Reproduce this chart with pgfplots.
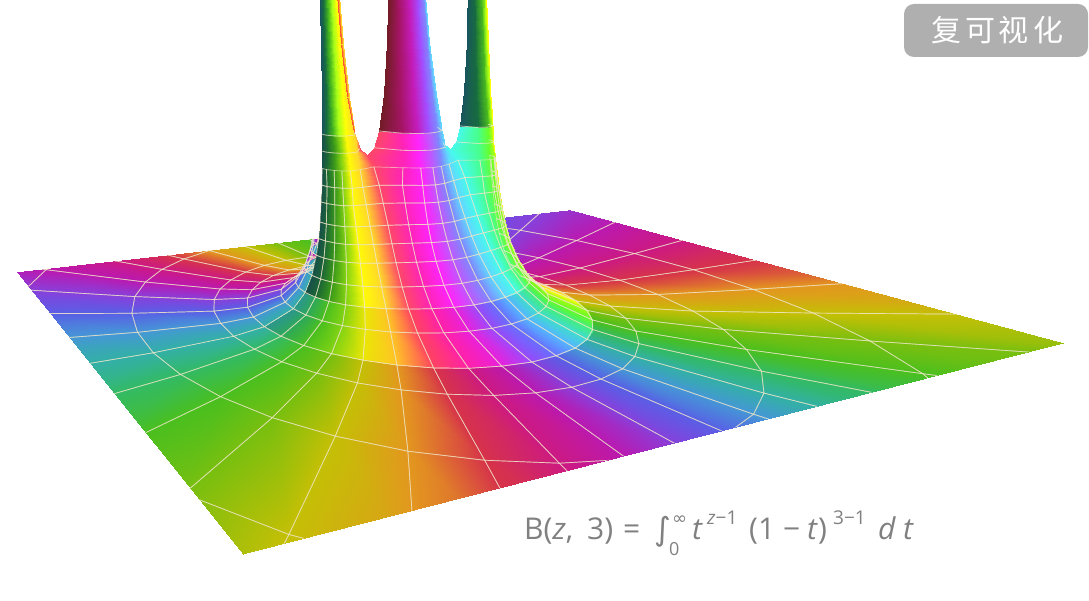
\documentclass[border=0pt]{standalone}
\usepackage{pgfplots}
\usepackage{pgfplotstable}
\usepackage{fontspec}
\pgfplotsset{compat=1.18}
\setmainfont{Open Sans}
\newfontfamily\dejavu{DejaVu Sans}
\newfontfamily\cjk{Noto Sans CJK SC}
\definecolor{fgray}{RGB}{128,128,128}
\definecolor{bgray}{RGB}{175,175,175}
\definecolor{wlinecol}{RGB}{238,230,200}

\pgfplotstableread{
rho alpha wx wy h
7.5 0 7.54 0 0.0047
7.5 10 7.43 1.29 0.0047
7.5 20 7.09 2.55 0.0047
7.5 30 6.53 3.73 0.0047
7.5 40 5.78 4.79 0.0047
7.5 50 4.85 5.71 0.0047
7.5 60 3.77 6.46 0.0047
7.5 70 2.58 7.01 0.0047
7.5 80 1.31 7.34 0.0047
7.5 90 0 7.46 0.0047
4.64 0 4.71 0 0.02
4.64 10 4.64 0.79 0.02
4.64 20 4.43 1.56 0.02
4.64 30 4.08 2.28 0.02
4.64 40 3.61 2.94 0.02
4.64 50 3.03 3.50 0.02
4.64 60 2.36 3.96 0.02
4.64 70 1.61 4.29 0.02
4.64 80 0.82 4.50 0.02
4.64 90 0 4.57 0.02
3.22 0 3.32 0 0.06
3.22 10 3.27 0.54 0.06
3.22 20 3.12 1.07 0.06
3.22 30 2.88 1.56 0.06
3.22 40 2.55 2.00 0.06
3.22 50 2.14 2.39 0.06
3.22 60 1.66 2.70 0.06
3.22 70 1.14 2.93 0.06
3.22 80 0.58 3.07 0.06
3.22 90 0 3.12 0.06
2.23 0 2.38 0 0.18
2.23 10 2.34 0.36 0.18
2.23 20 2.24 0.71 0.18
2.23 30 2.06 1.04 0.18
2.23 40 1.82 1.34 0.18
2.23 50 1.53 1.59 0.18
2.23 60 1.19 1.80 0.18
2.23 70 0.81 1.96 0.18
2.23 80 0.41 2.05 0.18
2.23 90 0 2.08 0.18
1.82 0 2.00 0 0.33
1.82 10 1.97 0.28 0.33
1.82 20 1.88 0.56 0.33
1.82 30 1.73 0.82 0.33
1.82 40 1.53 1.05 0.33
1.82 50 1.29 1.25 0.33
1.82 60 1.00 1.42 0.33
1.82 70 0.69 1.54 0.33
1.82 80 0.35 1.61 0.33
1.82 90 0 1.64 0.33
}\tblFar

\pgfplotstableread{
rho alpha wx wy h
1.82 0 2.00 0 0.33
1.82 10 1.97 0.28 0.33
1.82 20 1.88 0.56 0.33
1.82 30 1.73 0.82 0.33
1.82 40 1.53 1.05 0.33
1.82 50 1.29 1.25 0.33
1.82 60 1.00 1.42 0.33
1.82 70 0.69 1.54 0.33
1.82 80 0.35 1.61 0.33
1.82 90 0 1.64 0.33
1.387 0 1.625 0 0.75
1.387 10 1.60 0.20 0.75
1.387 20 1.53 0.394 0.75
1.387 30 1.41 0.575 0.75
1.387 40 1.25 0.736 0.75
1.387 50 1.05 0.877 0.75
1.387 60 0.81 0.991 0.75
1.387 70 0.554 1.077 0.75
1.387 80 0.28 1.13 0.75
1.387 90 0 1.15 0.75
1.186 0 1.463 0 1.2
1.186 10 1.442 0.160 1.2
1.186 20 1.379 0.314 1.2
1.186 30 1.274 0.456 1.2
1.186 40 1.129 0.581 1.2
1.186 50 0.946 0.688 1.2
1.186 60 0.7315 0.778 1.2
1.186 70 0.496 0.848 1.2
1.186 80 0.250 0.895 1.2
1.186 90 0 0.912 1.2
}\tblBand

\pgfplotstableread{
rho alpha wx wy h
1.186 0 1.463 0 1.2
1.186 10 1.442 0.160 1.2
1.186 20 1.379 0.314 1.2
1.186 30 1.274 0.456 1.2
1.186 40 1.129 0.581 1.2
1.186 50 0.946 0.688 1.2
1.186 60 0.7315 0.778 1.2
1.186 70 0.496 0.848 1.2
1.186 80 0.250 0.895 1.2
1.186 90 0 0.912 1.2
1.056 0 1.365 0 1.7
1.056 10 1.346 0.133 1.7
1.056 20 1.288 0.261 1.7
1.056 30 1.194 0.376 1.7
1.056 40 1.060 0.475 1.7
1.056 50 0.888 0.559 1.7
1.056 60 0.683 0.631 1.7
1.056 70 0.458 0.692 1.7
1.056 80 0.228 0.736 1.7
1.056 90 0 0.7525 1.7
0.954 0 1.2935 0 2.3
0.954 10 1.2756 0.112 2.3
0.954 20 1.223 0.2185 2.3
0.954 30 1.137 0.313 2.3
0.954 40 1.014 0.389 2.3
0.954 50 0.849 0.449 2.3
0.954 60 0.647 0.505 2.3
0.954 70 0.427 0.561 2.3
0.954 80 0.209 0.607 2.3
0.954 90 0 0.626 2.3
0.894 0 1.254 0 2.8
0.894 10 1.237 0.099 2.8
0.894 20 1.187 0.194 2.8
0.894 30 1.108 0.276 2.8
0.894 40 0.992 0.336 2.8
0.894 50 0.831 0.3805 2.8
0.894 60 0.627 0.425 2.8
0.894 70 0.406 0.479 2.8
0.894 80 0.195 0.530 2.8
0.894 90 0 0.552 2.8
0.846 0 1.225 0 3.3
0.846 10 1.207 0.088 3.3
0.846 20 1.160 0.174 3.3
0.846 30 1.087 0.247 3.3
0.846 40 0.979 0.294 3.3
0.846 50 0.820 0.322 3.3
0.846 60 0.612 0.355 3.3
0.846 70 0.3875 0.410 3.3
0.846 80 0.181 0.468 3.3
0.846 90 0 0.489 3.3
0.80 0 1.199 0 3.9
0.80 10 1.181 0.077 3.9
0.80 20 1.135 0.156 3.9
0.80 30 1.069 0.220 3.9
0.80 40 0.971 0.253 3.9
0.80 50 0.814 0.262 3.9
0.80 60 0.598 0.271 3.9
0.80 70 0.366 0.339 3.9
0.80 80 0.165 0.41 3.9
0.80 90 0 0.432 3.9
0.769 0 1.177 0 4.4
0.769 10 1.165 0.075 4.4
0.769 20 1.118 0.143 4.4
0.769 30 1.054 0.196 4.4
0.769 40 0.962 0.235 4.4
0.769 50 0.82 0.228 4.4
0.769 60 0.589 0.205 4.4
0.769 70 0.35 0.2875 4.4
0.769 80 0.15 0.369 4.4
0.769 90 0 0.393 4.4
0.742 0 1.163 0 4.9
0.742 10 1.158 0.068 4.9
0.742 20 1.108 0.135 4.9
0.742 30 1.047 0.185 4.9
0.742 40 0.96 0.215 4.9
0.742 50 0.82 0.195 4.9
0.742 60 0.58 0.116 4.9
0.742 70 0.315 0.262 4.9
0.742 80 0.14 0.335 4.9
0.742 90 0 0.362 4.9
}\tblNear

\pgfplotstableread{
rho alpha wx wy h
0.742 0 1.163 0 4.9
0.742 10 1.158 0.068 4.9
0.742 20 1.108 0.135 4.9
0.742 30 1.047 0.185 4.9
0.742 40 0.96 0.215 4.9
0.742 50 0.82 0.195 4.9
0.742 60 0.58 0.116 4.9
0.742 70 0.315 0.262 4.9
0.742 80 0.14 0.335 4.9
0.742 90 0 0.362 4.9
0.727 0 1.155 0 5.196
0.727 10 1.145 0.063 5.196
0.727 20 1.10 0.127 5.196
0.727 30 1.042 0.174 5.196
0.727 40 0.955 0.196 5.196
0.727 50 0.828 0.178 5.196
0.727 60 0.577 0 5.196
0.727 70 0.30 0.25 5.196
0.727 80 0.145 0.311 5.196
0.727 90 0 0.344 5.196
}\tblNeck

\pgfplotstableread{
rho alpha wx wy h
0.6 0 1.155 0 5.196
0.6 10 1.145 0.063 5.196
0.6 20 1.10 0.127 5.196
0.6 30 1.042 0.174 5.196
0.6 40 0.955 0.196 5.196
0.6 50 0.828 0.178 5.196
0.6 60 0.577 0 5.196
0.6 0 1.15 0 5.405
0.6 10 1.14 0.06 5.405
0.6 20 1.095 0.122 5.405
0.6 30 1.038 0.163 5.405
0.6 40 0.958 0.186 5.405
0.6 50 0.825 0.165 5.405
0.6 60 0.67 0 5.405
0.6 0 1.139 0 5.90
0.6 10 1.128 0.056 5.90
0.6 20 1.092 0.115 5.90
0.6 30 1.032 0.150 5.90
0.6 40 0.962 0.175 5.90
0.6 50 0.837 0.151 5.90
0.6 60 0.727 0 5.90
}\tblSideLow

\pgfplotstableread{
rho alpha wx wy h
0.6 0 1.139 0 5.90
0.6 10 1.128 0.056 5.90
0.6 20 1.092 0.115 5.90
0.6 30 1.032 0.150 5.90
0.6 40 0.962 0.175 5.90
0.6 50 0.837 0.151 5.90
0.6 60 0.727 0 5.90
0.6 0 1.12 0 6.99
0.6 10 1.111 0.052 6.99
0.6 20 1.078 0.102 6.99
0.6 30 1.025 0.131 6.99
0.6 40 0.958 0.146 6.99
0.6 50 0.864 0.115 6.99
0.6 60 0.80 0 6.99
0.6 0 1.101 0 8.51
0.6 10 1.093 0.045 8.51
0.6 20 1.064 0.086 8.51
0.6 30 1.018 0.111 8.51
0.6 40 0.959 0.118 8.51
0.6 50 0.889 0.085 8.51
0.6 60 0.85 0 8.51
0.6 0 1.084 0 10.53
0.6 10 1.076 0.038 10.53
0.6 20 1.051 0.072 10.53
0.6 30 1.012 0.092 10.53
0.6 40 0.963 0.093 10.53
0.6 50 0.911 0.064 10.53
0.6 60 0.887 0 10.53
}\tblSideHigh

\pgfplotstableread{
rho alpha wx wy h
0.6 60 0.577 0 5.196
0.6 70 0.30 0.25 5.196
0.6 80 0.145 0.311 5.196
0.6 90 0 0.344 5.196
0.6 60 0.482 0 5.405
0.6 70 0.29 0.238 5.405
0.6 80 0.145 0.302 5.405
0.6 90 0 0.333 5.405
0.6 60 0.406 0 5.90
0.6 70 0.275 0.21 5.90
0.6 80 0.137 0.282 5.90
0.6 90 0 0.309 5.90
}\tblMidLow

\pgfplotstableread{
rho alpha wx wy h
0.6 60 0.406 0 5.90
0.6 70 0.275 0.21 5.90
0.6 80 0.137 0.282 5.90
0.6 90 0 0.309 5.90
0.6 60 0.319 0 6.99
0.6 70 0.241 0.168 6.99
0.6 80 0.1225 0.243 6.99
0.6 90 0 0.267 6.99
0.6 60 0.251 0 8.51
0.6 70 0.201 0.131 8.51
0.6 80 0.106 0.202 8.51
0.6 90 0 0.224 8.51
0.6 60 0.198 0 10.53
0.6 70 0.164 0.102 10.53
0.6 80 0.0885 0.164 10.53
0.6 90 0 0.184 10.53
}\tblMidHigh

% Back half: phase from -270 to 450 in steps of 30
\pgfplotsset{colormap={phaseB}{
 rgb=(0.47,0.75,0.06) rgb=(0.29,0.75,0.12) rgb=(0.20,0.73,0.39) rgb=(0.20,0.69,0.65)
 rgb=(0.27,0.59,0.84) rgb=(0.35,0.37,0.90) rgb=(0.53,0.25,0.86) rgb=(0.73,0.10,0.69)
 rgb=(0.80,0.10,0.51) rgb=(0.84,0.20,0.29) rgb=(0.89,0.59,0.12) rgb=(0.77,0.75,0.02)
 rgb=(0.47,0.75,0.06) rgb=(0.29,0.75,0.12) rgb=(0.20,0.73,0.39) rgb=(0.20,0.69,0.65)
 rgb=(0.27,0.59,0.84) rgb=(0.35,0.37,0.90) rgb=(0.53,0.25,0.86) rgb=(0.73,0.10,0.69)
 rgb=(0.80,0.10,0.51) rgb=(0.84,0.20,0.29) rgb=(0.89,0.59,0.12) rgb=(0.77,0.75,0.02)
 rgb=(0.47,0.75,0.06)}}
% Front half: phase from -90 to 270 in steps of 30, with the light on each part of the surface
\pgfplotsset{colormap={far}{
 rgb=(0.53,0.25,0.86) rgb=(0.73,0.10,0.69) rgb=(0.80,0.10,0.51) rgb=(0.84,0.20,0.29)
 rgb=(0.89,0.59,0.12) rgb=(0.77,0.75,0.02) rgb=(0.47,0.75,0.06) rgb=(0.29,0.75,0.12)
 rgb=(0.20,0.73,0.39) rgb=(0.20,0.69,0.65) rgb=(0.27,0.59,0.84) rgb=(0.35,0.37,0.90)
 rgb=(0.53,0.25,0.86)}}
\pgfplotsset{colormap={bandR}{
 rgb=(1,0.26,0.38) rgb=(1,0.26,0.38) rgb=(1,0.26,0.38) rgb=(1,0.26,0.38)
 rgb=(1,0.78,0.16) rgb=(1,1,0.03) rgb=(0.62,0.99,0.08) rgb=(0.38,0.98,0.16)
 rgb=(0.26,0.93,0.50) rgb=(0.25,0.86,0.81) rgb=(0.33,0.71,1) rgb=(0.41,0.43,1)
 rgb=(0.60,0.28,0.97)}}
\pgfplotsset{colormap={nearR}{
 rgb=(1,0.28,0.41) rgb=(1,0.28,0.41) rgb=(1,0.28,0.41) rgb=(1,0.28,0.41)
 rgb=(1,0.84,0.17) rgb=(1,1,0.03) rgb=(0.67,1,0.09) rgb=(0.41,1,0.17)
 rgb=(0.28,1,0.55) rgb=(0.28,0.98,0.92) rgb=(0.38,0.84,1) rgb=(0.50,0.53,1)
 rgb=(0.74,0.35,1)}}
\pgfplotsset{colormap={bandL}{
 rgb=(0.61,0.29,0.99) rgb=(0.91,0.13,0.86) rgb=(1,0.13,0.66) rgb=(1,0.26,0.38)
 rgb=(1,0.76,0.15) rgb=(0.92,0.90,0.02) rgb=(0.52,0.83,0.07) rgb=(0.29,0.75,0.12)
 rgb=(0.18,0.66,0.35) rgb=(0.17,0.59,0.55) rgb=(0.17,0.59,0.55) rgb=(0.17,0.59,0.55)
 rgb=(0.17,0.59,0.55)}}
\pgfplotsset{colormap={nearL}{
 rgb=(0.74,0.35,1) rgb=(1,0.14,0.98) rgb=(1,0.14,0.72) rgb=(1,0.28,0.41)
 rgb=(1,0.84,0.17) rgb=(1,0.98,0.03) rgb=(0.52,0.83,0.07) rgb=(0.23,0.60,0.10)
 rgb=(0.11,0.40,0.21) rgb=(0.09,0.31,0.29) rgb=(0.09,0.31,0.29) rgb=(0.09,0.31,0.29)
 rgb=(0.09,0.31,0.29)}}
\pgfplotsset{colormap={sideTop}{
 rgb=(1,0.35,0.20) rgb=(1,0.35,0.20) rgb=(1,0.35,0.20) rgb=(1,0.35,0.20)
 rgb=(1,0.84,0.17) rgb=(1,1,0.03) rgb=(0.67,1,0.09) rgb=(0.28,0.72,0.12)
 rgb=(0.09,0.42,0.25) rgb=(0.10,0.33,0.37) rgb=(0.10,0.33,0.37) rgb=(0.10,0.33,0.37)
 rgb=(0.10,0.33,0.37)}}
\pgfplotsset{colormap={midR}{
 rgb=(0.28,0.98,0.92) rgb=(0.28,0.98,0.92) rgb=(0.28,0.98,0.92) rgb=(0.28,0.98,0.92)
 rgb=(0.28,0.98,0.92) rgb=(0.28,0.98,0.92) rgb=(0.28,0.98,0.92) rgb=(0.28,0.98,0.92)
 rgb=(0.28,0.98,0.92) rgb=(0.28,0.98,0.92) rgb=(0.38,0.84,1) rgb=(0.50,0.53,1)
 rgb=(0.64,0.30,1)}}
\pgfplotsset{colormap={midL}{
 rgb=(0.64,0.30,1) rgb=(0.77,0.11,0.73) rgb=(0.65,0.08,0.40) rgb=(0.45,0.11,0.15)
 rgb=(0.45,0.11,0.15) rgb=(0.45,0.11,0.15) rgb=(0.45,0.11,0.15) rgb=(0.45,0.11,0.15)
 rgb=(0.45,0.11,0.15) rgb=(0.45,0.11,0.15) rgb=(0.45,0.11,0.15) rgb=(0.45,0.11,0.15)
 rgb=(0.45,0.11,0.15)}}

% table, columns, sx, sy, phase offset, phase sign, colormap
\newcommand{\sheet}[7]{%
 \addplot[surf,shader=interp,colormap name=#7,point meta=explicit,mesh/cols=#2]
  table[x expr={PX(#3*\thisrow{wx},#4*\thisrow{wy},\thisrow{h})},
        y expr={PY(#3*\thisrow{wx},#4*\thisrow{wy},\thisrow{h})},
        meta expr={#5+#6*3*\thisrow{alpha}}] {#1};}
\newcommand{\grid}[4]{%
 \addplot[surf,shader=faceted,faceted color=wlinecol,fill opacity=0,draw opacity=.65,line width=.7pt,mesh/cols=#2]
  table[x expr={PX(#3*\thisrow{wx},#4*\thisrow{wy},\thisrow{h})},
        y expr={PY(#3*\thisrow{wx},#4*\thisrow{wy},\thisrow{h})}] {#1};}
\newcommand{\wline}[6]{%
 \addplot[wlinecol,line width=.8pt,opacity=.75,no markers,unbounded coords=discard,
  restrict expr to domain={abs(\thisrow{#4}-#5)}{0:#6}]
  table[x expr={PX(#2*\thisrow{wx},#3*\thisrow{wy},\thisrow{h})},
        y expr={PY(#2*\thisrow{wx},#3*\thisrow{wy},\thisrow{h})}] {#1};}
\newcommand{\neckLines}[2]{%
 \wline{\tblNeck}{#1}{#2}{alpha}{10}{0.1}\wline{\tblNeck}{#1}{#2}{alpha}{20}{0.1}\wline{\tblNeck}{#1}{#2}{alpha}{30}{0.1}%
 \wline{\tblNeck}{#1}{#2}{alpha}{40}{0.1}\wline{\tblNeck}{#1}{#2}{alpha}{50}{0.1}\wline{\tblNeck}{#1}{#2}{alpha}{70}{0.1}%
 \wline{\tblNeck}{#1}{#2}{alpha}{80}{0.1}\wline{\tblNeck}{#1}{#2}{alpha}{90}{0.1}}
\newcommand{\sideLines}[2]{%
 \wline{\tblSideLow}{#1}{#2}{alpha}{10}{0.1}\wline{\tblSideLow}{#1}{#2}{alpha}{20}{0.1}\wline{\tblSideLow}{#1}{#2}{alpha}{30}{0.1}%
 \wline{\tblSideLow}{#1}{#2}{alpha}{40}{0.1}\wline{\tblSideLow}{#1}{#2}{alpha}{50}{0.1}%
 \wline{\tblSideHigh}{#1}{#2}{alpha}{10}{0.1}\wline{\tblSideHigh}{#1}{#2}{alpha}{20}{0.1}\wline{\tblSideHigh}{#1}{#2}{alpha}{30}{0.1}%
 \wline{\tblSideHigh}{#1}{#2}{alpha}{40}{0.1}\wline{\tblSideHigh}{#1}{#2}{alpha}{50}{0.1}%
 \wline{\tblSideLow}{#1}{#2}{h}{5.405}{0.005}\wline{\tblSideLow}{#1}{#2}{h}{5.9}{0.005}}
\newcommand{\midLines}[2]{%
 \wline{\tblMidLow}{#1}{#2}{alpha}{70}{0.1}\wline{\tblMidLow}{#1}{#2}{alpha}{80}{0.1}\wline{\tblMidLow}{#1}{#2}{alpha}{90}{0.1}%
 \wline{\tblMidHigh}{#1}{#2}{alpha}{70}{0.1}\wline{\tblMidHigh}{#1}{#2}{alpha}{80}{0.1}\wline{\tblMidHigh}{#1}{#2}{alpha}{90}{0.1}%
 \wline{\tblMidLow}{#1}{#2}{h}{5.405}{0.005}\wline{\tblMidLow}{#1}{#2}{h}{5.9}{0.005}}

\pgfplotsset{base/.style={at={(0,0)},anchor=south west,width=1089pt,height=600pt,scale only axis,
 xmin=0,xmax=1089,ymin=0,ymax=600,y dir=reverse,hide axis}}

\begin{document}
\begin{tikzpicture}[declare function={
 DD(\w,\y,\h)=1+0.6324*(\w+4)/10+1.0466*(\y+3)/6-0.0125*\h;
 PX(\w,\y,\h)=(1492.2*(\w+4)/10-208.2*(\y+3)/6+243-6.8*\h)/DD(\w,\y,\h);
 PY(\w,\y,\h)=(5.9*(\w+4)/10+2.7*(\y+3)/6+554-57.275*\h)/DD(\w,\y,\h);}]
\useasboundingbox (0,0) rectangle (1089pt,600pt);
\begin{scope}
\clip (243pt,46pt)--(1063pt,257pt)--(570pt,390pt)--(17pt,328pt)--cycle;
\begin{axis}[base,point meta min=-270,point meta max=450]
\sheet{\tblFar}{10}{1}{1}{0}{-1}{phaseB}
\sheet{\tblBand}{10}{1}{1}{0}{-1}{phaseB}
\sheet{\tblNear}{10}{1}{1}{0}{-1}{phaseB}
\sheet{\tblFar}{10}{-1}{1}{180}{1}{phaseB}
\sheet{\tblBand}{10}{-1}{1}{180}{1}{phaseB}
\sheet{\tblNear}{10}{-1}{1}{180}{1}{phaseB}
\grid{\tblFar}{10}{1}{1}
\grid{\tblBand}{10}{1}{1}
\grid{\tblNear}{10}{1}{1}
\grid{\tblFar}{10}{-1}{1}
\grid{\tblBand}{10}{-1}{1}
\grid{\tblNear}{10}{-1}{1}
\end{axis}
\end{scope}
\begin{scope}
\clip (243pt,46pt)--(1063pt,257pt)--(570pt,390pt)--(515pt,383.8pt)--(515pt,602pt)--(285pt,602pt)--(285pt,358.1pt)--(17pt,328pt)--cycle;
\begin{axis}[base,point meta min=-90,point meta max=270]
\sheet{\tblFar}{10}{1}{-1}{0}{1}{far}
\sheet{\tblBand}{10}{1}{-1}{0}{1}{bandR}
\sheet{\tblNear}{10}{1}{-1}{0}{1}{nearR}
\sheet{\tblNeck}{10}{1}{-1}{0}{1}{nearR}
\sheet{\tblFar}{10}{-1}{-1}{180}{-1}{far}
\sheet{\tblBand}{10}{-1}{-1}{180}{-1}{bandL}
\sheet{\tblNear}{10}{-1}{-1}{180}{-1}{nearL}
\sheet{\tblNeck}{10}{-1}{-1}{180}{-1}{nearL}
\sheet{\tblSideLow}{7}{1}{-1}{0}{1}{nearR}
\sheet{\tblSideHigh}{7}{1}{-1}{0}{1}{sideTop}
\sheet{\tblSideLow}{7}{-1}{-1}{180}{-1}{nearL}
\sheet{\tblSideHigh}{7}{-1}{-1}{180}{-1}{sideTop}
\sheet{\tblMidLow}{4}{1}{-1}{0}{1}{nearR}
\sheet{\tblMidHigh}{4}{1}{-1}{0}{1}{midR}
\sheet{\tblMidLow}{4}{-1}{-1}{180}{-1}{nearL}
\sheet{\tblMidHigh}{4}{-1}{-1}{180}{-1}{midL}
\grid{\tblFar}{10}{1}{-1}
\grid{\tblBand}{10}{1}{-1}
\grid{\tblNear}{10}{1}{-1}
\grid{\tblFar}{10}{-1}{-1}
\grid{\tblBand}{10}{-1}{-1}
\grid{\tblNear}{10}{-1}{-1}
\neckLines{1}{-1}
\neckLines{-1}{-1}
\sideLines{1}{-1}
\sideLines{-1}{-1}
\midLines{1}{-1}
\midLines{-1}{-1}
\end{axis}
\end{scope}
% formula
\begin{scope}[every node/.style={anchor=base west,inner sep=0pt,text=fgray}]
\node at (524pt,61pt) {\fontsize{30}{30}\selectfont B(\textit{z},};
\node at (587pt,61pt) {\fontsize{30}{30}\selectfont 3)};
\node at (623pt,61pt) {\fontsize{30}{30}\selectfont =};
\node at (654pt,60pt) {\fontsize{32}{32}\selectfont\dejavu ∫};
\node at (669pt,45pt) {\fontsize{18}{18}\selectfont 0};
\node at (672pt,76pt) {\fontsize{18}{18}\selectfont\dejavu ∞};
\node at (692pt,61pt) {\fontsize{30}{30}\selectfont\itshape t};
\node at (707pt,76pt) {\fontsize{19}{19}\selectfont\textit{z}−1};
\node at (749pt,61pt) {\fontsize{30}{30}\selectfont (1};
\node at (783pt,61pt) {\fontsize{30}{30}\selectfont −};
\node at (807pt,61pt) {\fontsize{30}{30}\selectfont\textit{t})};
\node at (833pt,76pt) {\fontsize{19}{19}\selectfont 3−1};
\node at (878pt,61pt) {\fontsize{30}{30}\selectfont\itshape d};
\node at (903pt,61pt) {\fontsize{30}{30}\selectfont\itshape t};
\end{scope}
% badge
\fill[bgray,rounded corners=10pt] (904pt,543pt) rectangle (1088pt,596pt);
\node[text=white,inner sep=0pt] at (997pt,570pt) {\fontsize{30}{30}\selectfont\cjk 复\kern4pt 可\kern4pt 视\kern4pt 化};
\end{tikzpicture}
\end{document}
